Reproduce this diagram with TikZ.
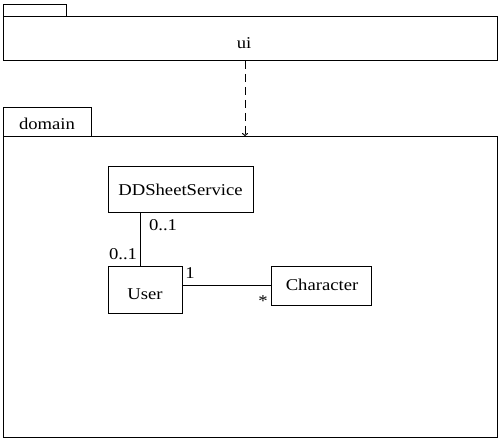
\documentclass[tikz,border=0pt]{standalone}
\usepackage{fontspec}
\setmainfont[FakeStretch=1.13]{Liberation Serif}
\usetikzlibrary{arrows.meta}
\begin{document}
\begin{tikzpicture}[x=1pt,y=1pt,
  every node/.style={font=\fontsize{16.5}{19}\selectfont, inner sep=0pt},
  box/.style={draw, line width=1pt, anchor=north west},
  lbl/.style={font=\fontsize{16.5}{19}\selectfont},
  conn/.style={line width=1pt},
  dep/.style={line width=1pt, dash pattern=on 8pt off 5pt, -{To[length=3pt,width=6pt]}}]
\useasboundingbox (0,0) rectangle (504,-443);
% ui package
\node[box, minimum width=63pt, minimum height=12pt] (uitab) at (3,-4) {};
\node[box, minimum width=494pt, minimum height=44pt] (uibody) at (3,-16) {};
\node[lbl] (uilabel) at (244,-43) {ui};
% domain package
\node[box, minimum width=88pt, minimum height=29pt] (domtab) at (3,-107) {};
\node[lbl] (domlabel) at (47,-124) {domain};
\node[box, minimum width=494pt, minimum height=301pt] (dombody) at (3,-136) {};
% classes
\node[box, minimum width=145pt, minimum height=46pt] (dds) at (108,-166) {};
\node[lbl] (ddslabel) at (180.5,-190) {DDSheetService};
\node[box, minimum width=74pt, minimum height=47pt] (user) at (108,-266) {};
\node[lbl] (userlabel) at (145,-294) {User};
\node[box, minimum width=100pt, minimum height=39pt] (char) at (271,-266) {};
\node[lbl] (charlabel) at (322,-285) {Character};
% dependency
\coordinate (ax) at (245,0);
\draw[dep] (uibody.south -| ax) -- (dombody.north -| ax);
% associations
\coordinate (vx) at (140,0);
\draw[conn] (dds.south -| vx) -- (user.north -| vx);
\node[lbl] (m1) at (163,-225) {0..1};
\node[lbl] (m2) at (123,-254) {0..1};
\coordinate (hy) at (0,-286);
\draw[conn] (user.east |- hy) -- (char.west |- hy);
\node[lbl] (m3) at (190,-273) {1};
\node[lbl] (m4) at (263,-301) {*};
\end{tikzpicture}
\end{document}
